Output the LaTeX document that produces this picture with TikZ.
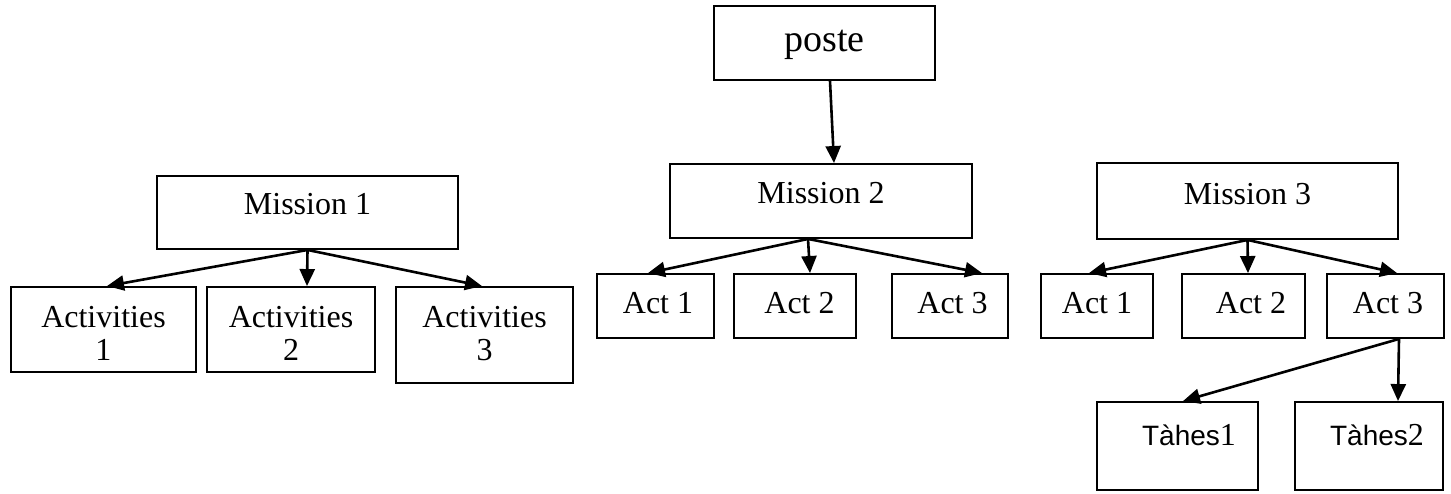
\documentclass[tikz,border=0pt]{standalone}
\usepackage{fontspec}
\setmainfont{Liberation Serif}
\newfontfamily\arialfont{Liberation Sans}
\usetikzlibrary{arrows.meta}
\begin{document}
\begin{tikzpicture}[x=1pt,y=-1pt,
  box/.style={draw, line width=1.9pt, inner sep=0pt, font=\fontsize{32}{33}\selectfont},
  arr/.style={line width=2.6pt, -{Triangle[length=17pt,width=15pt]}}]
\useasboundingbox (0,0) rectangle (1451,494);
% group 1
\node[box, minimum width=301pt, text height=39pt, text depth=34pt] (m1) at (307.5,212.5) {Mission 1};
\node[box, minimum width=185pt, text height=40pt, text depth=45pt] (a1) at (103.5,329.5) {\begin{tabular}[t]{@{}c@{}}Activities\\1\end{tabular}};
\node[box, minimum width=168pt, text height=40pt, text depth=45pt] (a2) at (291,329.5) {\begin{tabular}[t]{@{}c@{}}Activities\\2\end{tabular}};
\node[box, minimum width=177pt, text height=40pt, text depth=56pt] (a3) at (484.5,335) {\begin{tabular}[t]{@{}c@{}}Activities\\3\end{tabular}};
% group 2
\node[box, minimum width=221pt, text height=46pt, text depth=28pt, font=\fontsize{38}{40}\selectfont] (poste) at (824.5,43) {poste};
\node[box, minimum width=302pt, text height=40pt, text depth=34pt] (m2) at (821,201) {Mission 2};
\node[box, minimum width=117pt, text height=39pt, text depth=25pt] (b1) at (655.5,306) {\hspace*{5pt}Act 1};
\node[box, minimum width=122pt, text height=39pt, text depth=25pt] (b2) at (795,306) {\hspace*{9pt}Act 2};
\node[box, minimum width=116pt, text height=39pt, text depth=25pt] (b3) at (950,306) {\hspace*{5pt}Act 3};
% group 3
\node[box, minimum width=301pt, text height=42pt, text depth=34pt] (m3) at (1247.5,201) {Mission 3};
\node[box, minimum width=112pt, text height=39pt, text depth=25pt] (c1) at (1097,306) {Act 1};
\node[box, minimum width=123pt, text height=39pt, text depth=25pt] (c2) at (1243.5,306) {\hspace*{15pt}Act 2};
\node[box, minimum width=117pt, text height=39pt, text depth=25pt] (c3) at (1385.5,306) {\hspace*{5pt}Act 3};
\node[box, minimum width=161pt, text height=43pt, text depth=45pt] (t1) at (1177.5,446) {\hspace*{23pt}{\arialfont\fontsize{28}{30}\selectfont Tàhes}1};
\node[box, minimum width=148pt, text height=43pt, text depth=45pt] (t2) at (1369,446) {\hspace*{16pt}{\arialfont\fontsize{28}{30}\selectfont Tàhes}2};
% connectors
\draw[arr] (m1.south) -- ([xshift=3.5pt]a1.north);
\draw[arr] (m1.south) -- ([xshift=16pt]a2.north);
\draw[arr] (m1.south) -- ([xshift=-2.5pt]a3.north);
\draw[arr] ([xshift=5.5pt]poste.south) -- ([xshift=13pt]m2.north);
\draw[arr] ([xshift=-13pt]m2.south) -- ([xshift=-7.5pt]b1.north);
\draw[arr] ([xshift=-13pt]m2.south) -- ([xshift=15pt]b2.north);
\draw[arr] ([xshift=-13pt]m2.south) -- ([xshift=32pt]b3.north);
\draw[arr] (m3.south) -- ([xshift=-8pt]c1.north);
\draw[arr] (m3.south) -- ([xshift=4.5pt]c2.north);
\draw[arr] (m3.south) -- ([xshift=11.5pt]c3.north);
\draw[arr] ([xshift=13.5pt]c3.south) -- ([xshift=5.5pt]t1.north);
\draw[arr] ([xshift=13.5pt]c3.south) -- ([xshift=29pt]t2.north);
\end{tikzpicture}
\end{document}
